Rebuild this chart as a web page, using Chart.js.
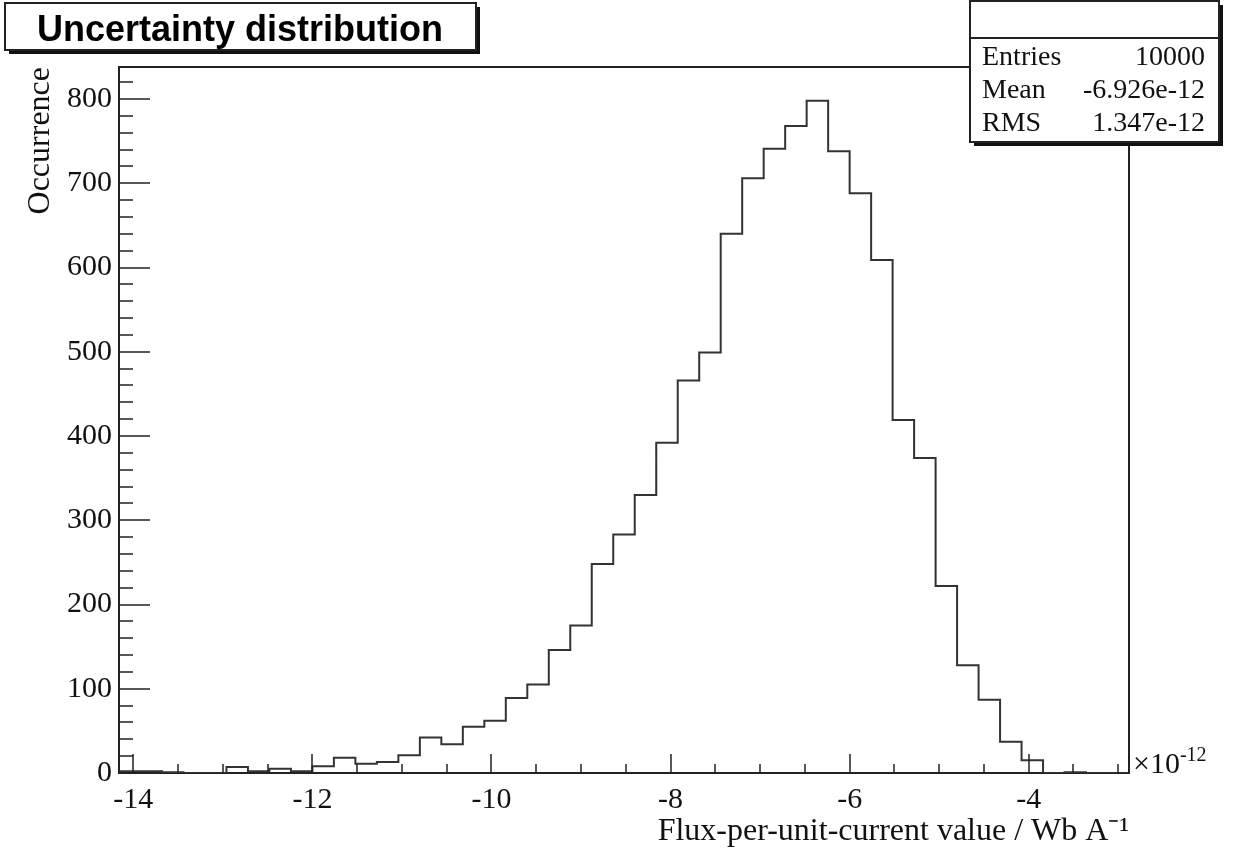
<!DOCTYPE html>
<html>
<head>
<meta charset="utf-8">
<script src="https://cdn.jsdelivr.net/npm/chart.js@4.4.1/dist/chart.umd.min.js"></script>
<style>
  html, body { margin: 0; padding: 0; background: #fff; }
  canvas { display: block; }
</style>
</head>
<body>
<canvas id="histChart" width="1239" height="852"></canvas>
<script>
// histogram range, x in units of 1e-12 Wb/A
const xMin = -14.16;
const xMax = -2.88;
// entries per bin (47 bins)
const counts = [2, 2, 1, 0, 0, 7, 2, 5, 2, 8,
                18, 11, 13, 21, 42, 34, 55, 62, 89, 105,
                146, 175, 248, 283, 330, 392, 466, 499, 640, 706,
                741, 768, 798, 738, 688, 609, 419, 374, 222, 128,
                87, 37, 15, 0, 1, 0, 0];
const xTicks = [-14, -12, -10, -8, -6, -4];
const yTicks = [0, 100, 200, 300, 400, 500, 600, 700, 800];
const yMax = 838;
const statLabels = ['Entries', 'Mean', 'RMS'];
const statValues = ['10000', '-6.926e-12', '1.347e-12'];

const serif = "'Liberation Serif', 'Times New Roman', serif";

// bin low edges -> points for a stepped outline
const binWidth = (xMax - xMin) / counts.length;
const points = counts.map((c, i) => ({ x: xMin + i * binWidth, y: c }));
points.push({ x: xMax, y: counts[counts.length - 1] });

// ROOT-like decorations: inward ticks, frame, stats box, title box
const rootStyle = {
    id: 'rootStyle',
    beforeDraw(chart) {
        const ctx = chart.ctx;
        ctx.save();
        ctx.fillStyle = '#fff';
        ctx.fillRect(0, 0, chart.width, chart.height);
        ctx.restore();
    },
    afterDraw(chart) {
        const { ctx, chartArea: a, scales: { x, y } } = chart;
        ctx.save();

        // frame top + right
        ctx.strokeStyle = '#222';
        ctx.lineWidth = 2;
        ctx.beginPath();
        ctx.moveTo(a.left, a.top);
        ctx.lineTo(a.right, a.top);
        ctx.lineTo(a.right, a.bottom);
        ctx.stroke();

        // ticks pointing into the frame
        ctx.lineWidth = 1.5;
        ctx.beginPath();
        for (let v = Math.ceil(xMin / 0.5) * 0.5; v <= xMax; v += 0.5) {
            const px = Math.round(x.getPixelForValue(v));
            const len = xTicks.includes(v) ? 19 : 9;
            ctx.moveTo(px, a.bottom);
            ctx.lineTo(px, a.bottom - len);
        }
        for (let v = 0; v <= yMax; v += 20) {
            const py = Math.round(y.getPixelForValue(v));
            const len = v % 100 === 0 ? 31 : 14;
            ctx.moveTo(a.left, py);
            ctx.lineTo(a.left + len, py);
        }
        ctx.stroke();

        // x10^-12 exponent
        ctx.fillStyle = '#111';
        ctx.textBaseline = 'alphabetic';
        ctx.textAlign = 'left';
        ctx.font = '30px ' + serif;
        ctx.fillText('\u00d710', a.right + 4, a.bottom);
        const w = ctx.measureText('\u00d710').width;
        ctx.font = '20px ' + serif;
        ctx.fillText('-12', a.right + 4 + w, a.bottom - 12);

        // stats box
        const bx = 970, by = 1, bw = 249, bh = 141;
        ctx.fillStyle = '#111';
        ctx.fillRect(bx + 4, by + 4, bw, bh);
        ctx.fillStyle = '#fff';
        ctx.fillRect(bx, by, bw, bh);
        ctx.strokeStyle = '#222';
        ctx.lineWidth = 2;
        ctx.strokeRect(bx, by, bw, bh);
        ctx.beginPath();
        ctx.moveTo(bx, 38);
        ctx.lineTo(bx + bw, 38);
        ctx.stroke();
        ctx.fillStyle = '#111';
        ctx.font = '28px ' + serif;
        statLabels.forEach((lab, i) => {
            const base = 65 + i * 33;
            ctx.textAlign = 'left';
            ctx.fillText(lab, bx + 12, base);
            ctx.textAlign = 'right';
            ctx.fillText(statValues[i], bx + bw - 14, base);
        });

        // title box
        const tx = 5, ty = 3, tw = 471, th = 47;
        ctx.fillStyle = '#111';
        ctx.fillRect(tx + 4, ty + 4, tw, th);
        ctx.fillStyle = '#fff';
        ctx.fillRect(tx, ty, tw, th);
        ctx.strokeRect(tx, ty, tw, th);
        ctx.fillStyle = '#000';
        ctx.textAlign = 'left';
        ctx.font = "bold 36px 'Liberation Sans', Arial, sans-serif";
        ctx.fillText('Uncertainty distribution', tx + 32, 41);

        ctx.restore();
    }
};

const ctx = document.getElementById('histChart').getContext('2d');
const histChart = new Chart(ctx, {
    type: 'line',
    data: {
        datasets: [{
            label: 'Uncertainty distribution',
            data: points,
            stepped: true,
            borderColor: '#333',
            borderWidth: 2,
            pointRadius: 0,
            fill: false
        }]
    },
    options: {
        responsive: false,
        animation: false,
        devicePixelRatio: 1,
        layout: { padding: { left: 0, right: 110, top: 67, bottom: 0 } },
        plugins: {
            legend: { display: false },
            tooltip: { enabled: false }
        },
        scales: {
            x: {
                type: 'linear',
                min: xMin,
                max: xMax,
                afterBuildTicks: (scale) => { scale.ticks = xTicks.map(v => ({ value: v })); },
                afterFit: (scale) => { scale.height = 79; },
                grid: { display: false, drawTicks: false },
                border: { display: true, color: '#222', width: 2 },
                ticks: {
                    padding: 9,
                    color: '#111',
                    maxRotation: 0,
                    font: { family: serif, size: 30 }
                },
                title: {
                    display: true,
                    text: 'Flux-per-unit-current value / Wb A\u207b\u00b9',
                    align: 'end',
                    color: '#111',
                    padding: { top: 0, bottom: 1 },
                    font: { family: serif, size: 32 }
                }
            },
            y: {
                min: 0,
                max: yMax,
                afterBuildTicks: (scale) => { scale.ticks = yTicks.map(v => ({ value: v })); },
                afterFit: (scale) => { scale.width = 119; },
                grid: { display: false, drawTicks: false },
                border: { display: true, color: '#222', width: 2 },
                ticks: {
                    padding: 7,
                    color: '#111',
                    font: { family: serif, size: 30 }
                },
                title: {
                    display: true,
                    text: 'Occurrence',
                    align: 'end',
                    color: '#111',
                    padding: { top: 21, bottom: 0 },
                    font: { family: serif, size: 32 }
                }
            }
        }
    },
    plugins: [rootStyle]
});
</script>
</body>
</html>
